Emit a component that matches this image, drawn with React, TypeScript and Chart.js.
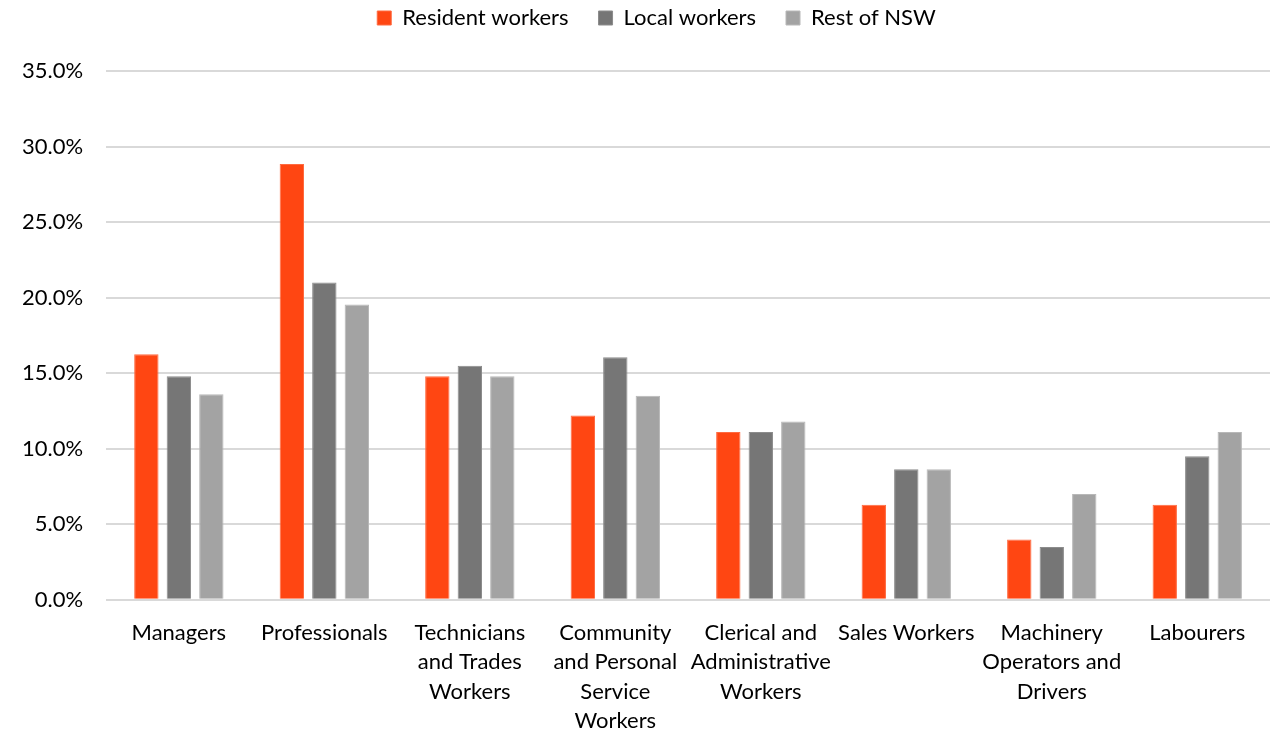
import React, { useEffect, useRef } from "react";
import { Chart, registerables } from "chart.js";

Chart.register(...registerables);

const categories: (string | string[])[] = [
  "Managers",
  "Professionals",
  ["Technicians", "and Trades", "Workers"],
  ["Community", "and Personal", "Service", "Workers"],
  ["Clerical and", "Administrative", "Workers"],
  "Sales Workers",
  ["Machinery", "Operators and", "Drivers"],
  "Labourers",
];

const residentWorkers = [16.25, 28.85, 14.8, 12.2, 11.1, 6.3, 4.0, 6.3];
const localWorkers = [14.8, 21.0, 15.5, 16.05, 11.1, 8.65, 3.5, 9.5];
const restOfNSW = [13.6, 19.55, 14.8, 13.5, 11.8, 8.65, 7.0, 11.1];

const FONT = "Lato, 'Open Sans', sans-serif";

const legendSpacer = {
  id: "legendSpacer",
  afterInit(chart: any) {
    const legend = chart.legend;
    if (!legend) return;
    const orig = legend.fit;
    legend.fit = function () {
      orig.call(this);
      this.height += 32;
    };
  },
  afterLayout(chart: any) {
    const legend = chart.legend;
    if (!legend) return;
    legend.left += 22;
    legend.right += 22;
  },
};

export default function App() {
  const ref = useRef<HTMLCanvasElement | null>(null);
  useEffect(() => {
    document.body.style.margin = "0";
    if (!ref.current) return;
    const chart = new Chart(ref.current, {
      type: "bar",
      data: {
        labels: categories,
        datasets: [
          { label: "Resident workers", data: residentWorkers, backgroundColor: "#FF4612", borderColor: "#FF6A40", borderWidth: 1 },
          { label: "Local workers", data: localWorkers, backgroundColor: "#767676", borderColor: "#8C8C8C", borderWidth: 1 },
          { label: "Rest of NSW", data: restOfNSW, backgroundColor: "#A3A3A3", borderColor: "#B8B8B8", borderWidth: 1 },
        ],
      },
      plugins: [legendSpacer],
      options: {
        animation: false,
        responsive: false,
        maintainAspectRatio: false,
        layout: { padding: { left: -1, right: 11, top: -23, bottom: -16 } },
        datasets: { bar: { categoryPercentage: 0.67, barPercentage: 0.75 } },
        plugins: {
          legend: {
            position: "top",
            labels: {
              font: { family: FONT, size: 22 },
              color: "#000",
              boxWidth: 14,
              boxHeight: 14,
              padding: 30,
            },
          },
          tooltip: { enabled: false },
        },
        scales: {
          x: {
            grid: { display: false },
            border: { display: false },
            ticks: {
              font: { family: FONT, size: 22, lineHeight: 1.32 },
              color: "#000",
              maxRotation: 0,
              autoSkip: false,
              padding: 11,
            },
          },
          y: {
            min: 0,
            max: 35,
            grid: { color: "#D9D9D9", lineWidth: 2, drawTicks: false },
            border: { display: false },
            ticks: {
              stepSize: 5,
              font: { family: FONT, size: 22 },
              color: "#000",
              padding: 23,
              callback: (v: any) => Number(v).toFixed(1) + "%",
            },
          },
        },
      },
    });
    return () => chart.destroy();
  }, []);
  return (
    <div style={{ width: 1281, height: 730 }}>
      <canvas ref={ref} width={1281} height={730} style={{ display: "block" }} />
    </div>
  );
}
